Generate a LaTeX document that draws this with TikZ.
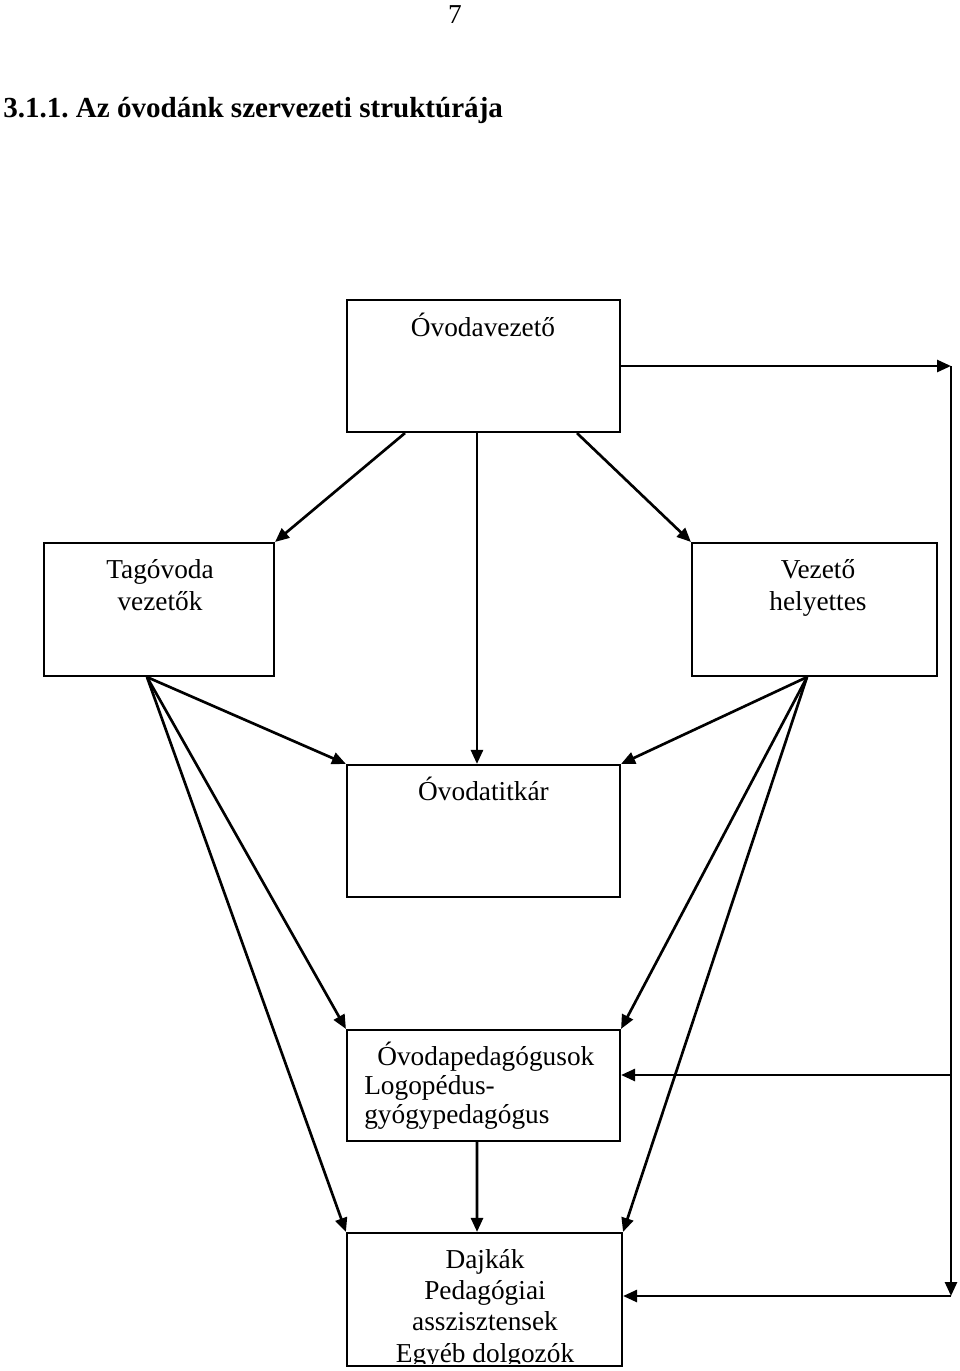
\documentclass[tikz,border=0pt]{standalone}
\usepackage{fontspec}
\setmainfont{Liberation Serif}
\usetikzlibrary{arrows.meta,calc}
\frenchspacing
\begin{document}
\begin{tikzpicture}[x=0.75pt,y=-0.75pt,
  box/.style={draw,line width=1.6pt,inner sep=0pt,rectangle},
  lbl/.style={inner sep=0pt,font=\fontsize{20.5}{24}\selectfont},
  arr/.style={line width=2pt,-{Triangle[length=10.5pt,width=9pt]}},
  ln/.style={line width=2pt}]
\useasboundingbox (0,0) rectangle (960,1371);
% texts at top
\node[lbl,anchor=base] (pg) at (455,23) {7};
\node[inner sep=0pt,anchor=base west,font=\fontsize{21.8}{26}\selectfont\bfseries] (title) at (3,117) {3.1.1. Az óvodánk szervezeti struktúrája};
% boxes
\node[box,minimum width=204.75pt,minimum height=99pt] (ov) at (483.5,366) {};
\node[box,minimum width=172.5pt,minimum height=99.75pt] (tag) at (159,609.5) {};
\node[box,minimum width=183.75pt,minimum height=99.75pt] (vh) at (814.5,609.5) {};
\node[box,minimum width=204.75pt,minimum height=99pt] (tit) at (483.5,831) {};
\node[box,minimum width=204.75pt,minimum height=83.25pt] (ped) at (483.5,1085.5) {};
\node[box,minimum width=206.25pt,minimum height=99.75pt] (daj) at (484.5,1299.5) {};
% labels
\node[lbl,anchor=base] (t1) at (483,336) {Óvodavezető};
\node[lbl,anchor=base] (t2a) at (160,578) {Tagóvoda};
\node[lbl,anchor=base] (t2b) at (160,610) {vezetők};
\node[lbl,anchor=base] (t3a) at (818,578) {Vezető};
\node[lbl,anchor=base] (t3b) at (818,610) {helyettes};
\node[lbl,anchor=base] (t4) at (483.5,800) {Óvodatitkár};
\node[lbl,anchor=base west] (t5a) at (377,1065) {Óvodapedagógusok};
\node[lbl,anchor=base west] (t5b) at (364,1094) {Logopédus-};
\node[lbl,anchor=base west] (t5c) at (364,1123) {gyógypedagógus};
\begin{scope}
\clip (348,1234) rectangle (621,1363);
\node[lbl,anchor=base] (t6a) at (485,1268) {Dajkák};
\node[lbl,anchor=base] (t6b) at (485,1299) {Pedagógiai};
\node[lbl,anchor=base] (t6c) at (485,1330) {asszisztensek};
\node[lbl,anchor=base] (t6d) at (485,1362) {Egyéb dolgozók};
\end{scope}
% connectors from Óvodavezető
\draw[arr] ([xshift=-58.9pt]ov.south) -- (tag.north east);
\draw[arr] ([xshift=-4.9pt]ov.south) -- ([xshift=-4.9pt]tit.north);
\draw[arr] ([xshift=70.1pt]ov.south) -- (vh.north west);
\coordinate (R1) at (951,366);
\coordinate (R3) at (951,1075);
\coordinate (R2) at (951,1296);
\draw[arr] (ov.east |- R1) -- (R1);
\draw[arr] (R1) -- (R2);
\draw[arr] (R3) -- (R3 -| ped.east);
\draw[arr] (R2) -- (R2 -| daj.east);
% from Tagóvoda vezetők
\coordinate (A1) at ([xshift=-9pt]tag.south);
\draw[arr] (A1) -- (tit.north west);
\draw[arr] (A1) -- (ped.north west);
\draw[arr] (A1) -- (daj.north west);
% from Vezető helyettes
\coordinate (A2) at ([xshift=-5.6pt]vh.south);
\draw[arr] (A2) -- (tit.north east);
\draw[arr] (A2) -- (ped.north east);
\draw[arr] (A2) -- (daj.north east);
% from pedagógusok to dajkák
\draw[arr] ([xshift=-4.9pt]ped.south) -- ([xshift=-5.6pt]daj.north);
\end{tikzpicture}
\end{document}
